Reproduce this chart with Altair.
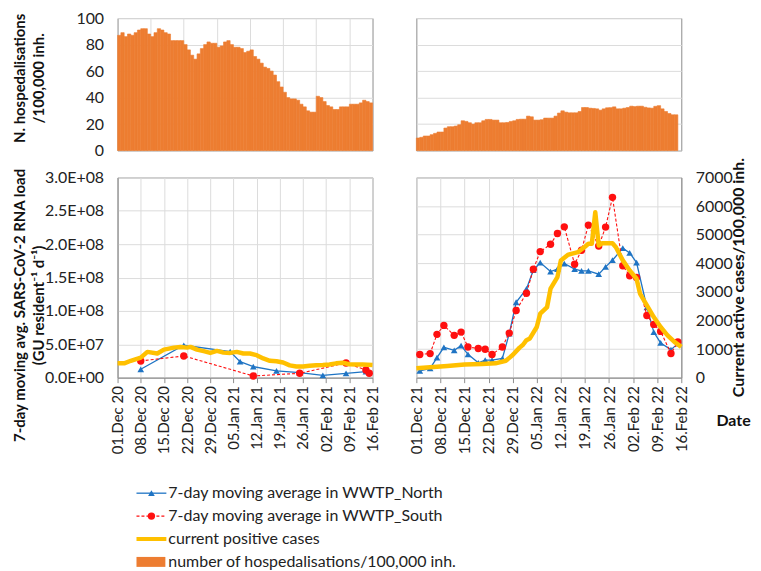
import altair as alt
import pandas as pd

# ---------------- data ----------------
START_2020 = "2020-12-01"
END_2020 = "2021-02-16"
START_2021 = "2021-12-01"
END_2021 = "2022-02-16"

# daily hospitalisations / 100,000 inh. (from 01 Dec)
hosp_2020 = [87, 89, 86, 88, 87, 89, 91, 92, 92, 88,
             86, 89, 92, 91, 89, 88, 83, 83, 83, 83,
             80, 76, 72, 69, 73, 77, 80, 82, 81, 81,
             78, 79, 82, 83, 80, 78, 78, 77, 74, 75,
             76, 71, 69, 66, 63, 62, 60, 57, 52, 48,
             44, 40, 39, 39, 38, 35, 33, 30, 29, 29,
             41, 40, 37, 34, 33, 31, 31, 33, 33, 33,
             35, 35, 35, 36, 38, 37, 36]
hosp_2021 = [9.5, 10, 11, 11, 12, 13, 14, 14, 17, 18,
             18, 18.5, 19.5, 22.5, 22, 21, 20, 21, 21, 22.5,
             23.5, 23.5, 23, 23, 21, 21, 21.2, 22, 22.5, 23.5,
             23.7, 23.7, 26, 25.5, 23, 23, 23.3, 24.5, 24.5, 24.5,
             26, 28.3, 30, 29, 28.5, 28.5, 28.5, 29.5, 32.5, 32.5,
             32, 31.8, 31.5, 30.5, 31.5, 32.3, 32.4, 33, 31.5, 31.5,
             32, 32.5, 33.5, 33.2, 33.5, 33.5, 32.7, 32.2, 32, 33.4,
             33.9, 31.5, 29.5, 28, 27, 27]

# 7-day moving average SARS-CoV-2 RNA load (GU/resident/day), winter 2020/21
north_2020_dates = ["2020-12-08", "2020-12-21", "2021-01-04", "2021-01-07", "2021-01-11",
                    "2021-01-18", "2021-01-25", "2021-02-01", "2021-02-08", "2021-02-14"]
north_2020 = [1.25e7, 4.85e7, 3.9e7, 2.4e7, 1.65e7, 1.0e7, 7.5e6, 3.5e6, 6.5e6, 9.0e6]
south_2020_dates = ["2020-12-08", "2020-12-21", "2021-01-11", "2021-01-25", "2021-02-08",
                    "2021-02-14", "2021-02-15"]
south_2020 = [2.5e7, 3.25e7, 2.5e6, 6.5e6, 2.2e7, 1.15e7, 6.5e6]

# current positive cases / 100,000 inh. (day offset from 01 Dec 2020)
cases_2020_days = [0, 2, 4, 7, 9, 12, 14, 17, 19, 21, 22, 24, 26, 28, 30, 32, 34, 36, 38,
                   40, 42, 44, 46, 48, 50, 52, 54, 56, 58, 60, 62, 64, 66, 68, 70, 72, 74, 77]
cases_2020 = [500, 500, 590, 700, 900, 845, 980, 1050, 1075, 1050, 1075, 980, 925, 865, 935,
              875, 865, 900, 845, 845, 785, 670, 590, 575, 530, 430, 390, 390, 415, 430, 440,
              460, 500, 520, 470, 460, 460, 440]

# winter 2021/22 (day offset from 01 Dec 2021)
wwtp_2021_days = [1, 4, 6, 8, 11, 13, 15, 18, 20, 22, 25, 27, 29, 32, 34, 36, 39, 41, 43,
                  46, 48, 50, 53, 55, 57, 60, 62, 64, 67, 69, 71, 74, 76]
north_2021 = [1.03e7, 1.38e7, 3.0e7, 4.55e7, 4.1e7, 4.8e7, 3.5e7, 2.22e7, 2.62e7, 2.62e7,
              2.87e7, 6.6e7, 1.13e8, 1.33e8, 1.61e8, 1.725e8, 1.59e8, 1.626e8, 1.71e8, 1.626e8,
              1.60e8, 1.60e8, 1.55e8, 1.66e8, 1.76e8, 1.94e8, 1.87e8, 1.725e8, 1.055e8, 6.83e7,
              5.2e7, 4.2e7, 5.1e7]
south_2021 = [3.47e7, 3.6e7, 6.49e7, 7.83e7, 6.34e7, 6.83e7, 4.6e7, 4.36e7, 4.26e7, 3.47e7,
              4.6e7, 6.68e7, 1.006e8, 1.264e8, 1.626e8, 1.889e8, 1.998e8, 2.16e8, 2.26e8, 1.70e8,
              1.91e8, 2.286e8, 1.973e8, 2.256e8, 2.702e8, 1.676e8, 1.527e8, 1.502e8, 9.32e7, 7.98e7,
              6.93e7, 3.62e7, 5.34e7]
cases_2021_days = [0, 4, 9, 14, 19, 23, 26, 28, 30, 31, 32, 33, 35, 36, 38, 39, 41, 42, 44, 45,
                   47, 49, 50, 51, 52, 53, 54, 57, 58, 60, 62, 64, 65, 67, 69, 71, 73, 75, 77]
cases_2021 = [325, 360, 405, 460, 480, 500, 590, 790, 1050, 1150, 1310, 1370, 1770, 2240, 2470,
              3110, 3515, 4100, 4290, 4330, 4390, 4580, 4680, 4680, 5780, 4620, 4700, 4700, 4560,
              4100, 3750, 3460, 2940, 2530, 2120, 1770, 1480, 1250, 1076]

gu_ticks = [0, 5e7, 1e8, 1.5e8, 2e8, 2.5e8, 3e8]
cases_ticks = [0, 1000, 2000, 3000, 4000, 5000, 6000, 7000]
hosp_ticks = [0, 20, 40, 60, 80, 100]

legend_labels = ["7-day moving average in WWTP_North",
                 "7-day moving average in WWTP_South",
                 "current positive cases",
                 "number of hospedalisations/100,000 inh."]

# ---------------- helpers ----------------
DAY = 86400000


def ms(s):
    return int(pd.Timestamp(s).value // 10**6)


def weekly(start, end):
    return list(range(ms(start), ms(end) + 1, 7 * DAY))


def every10(start, end):
    return list(range(ms(start) + 10 * DAY, ms(end), 10 * DAY))


BLUE = "#1F74C4"
RED = "#FF1010"
YEL = "#FFC000"
ORA = "#ED7D31"
FONT = "Lato"
TITLE_X = -90
TOP_H = 133
BOT_H = 201

sci_expr = ("datum.value == 0 ? '0.0E+00' : "
            "format(datum.value / pow(10, floor(log(datum.value)/LN10 + 1e-9)), '.1f') + 'E+' + "
            "(floor(log(datum.value)/LN10 + 1e-9) < 10 ? '0' : '') + "
            "floor(log(datum.value)/LN10 + 1e-9)")


def bars(values, start, end, left):
    s0 = ms(start)
    df = pd.DataFrame({
        "start": [s0 + i * DAY for i in range(len(values))],
        "end": [s0 + (i + 1) * DAY for i in range(len(values))],
        "value": values,
    })
    if left:
        xaxis = alt.Axis(values=every10(start, end), labels=False, ticks=False, domain=False,
                         title=None, grid=True)
        yaxis = alt.Axis(values=hosp_ticks, title=["N. hospedalisations", "/100,000 inh."],
                         titleX=TITLE_X, titleY=60, titleAngle=270, titleAlign="center",
                         titleBaseline="bottom", titleLineHeight=19, titleFontSize=15,
                         ticks=False, domain=False, labelPadding=14, grid=True)
    else:
        xaxis = None
        yaxis = alt.Axis(values=hosp_ticks, labels=False, ticks=False, domain=False, title=None,
                         grid=True)
    return alt.Chart(df).mark_bar(color=ORA, opacity=1, stroke=ORA, strokeWidth=0.6).encode(
        x=alt.X("start:T", scale=alt.Scale(type="utc", domain=[ms(start), ms(end)]), axis=xaxis),
        x2="end:T",
        y=alt.Y("value:Q", scale=alt.Scale(domain=[0, 100]), axis=yaxis),
        y2=alt.datum(0),
    ).properties(width=256 if left else 266, height=TOP_H)


def lines(n_dates, n_vals, s_dates, s_vals, c_days, c_vals, start, end, left):
    s0 = ms(start)
    ndf = pd.DataFrame({"date": n_dates, "gu": n_vals})
    sdf = pd.DataFrame({"date": s_dates, "gu": s_vals})
    cdf = pd.DataFrame({"date": [s0 + d * DAY for d in c_days], "cases": c_vals})
    xaxis = alt.Axis(values=weekly(start, end), format="%d.%b %y", labelAngle=270,
                     labelAlign="right", labelBaseline="middle", labelFlush=False,
                     labelOverlap=False, tickSize=5, grid=True, labelPadding=3,
                     labelFontSize=15,
                     title="Date" if not left else None,
                     titleX=318, titleY=43, titleAngle=0, titleAlign="center",
                     titleBaseline="middle")
    X = alt.X("date:T", scale=alt.Scale(type="utc", domain=[ms(start), ms(end)]), axis=xaxis)
    if left:
        gu_axis = alt.Axis(values=gu_ticks, labelExpr=sci_expr, ticks=False, labelPadding=14,
                           title=["7-day moving avg. SARS-CoV-2 RNA load",
                                  "(GU resident\u207b\u00b9 d\u207b\u00b9)"],
                           titleX=TITLE_X, titleY=128, titleAngle=270, titleAlign="center",
                           titleBaseline="bottom", titleLineHeight=19, titleFontSize=15,
                           grid=True)
        c_axis = None
    else:
        gu_axis = None
        c_axis = alt.Axis(values=cases_ticks, orient="right", format="d", ticks=False,
                          labelPadding=14, grid=True,
                          title="Current active cases/100,000 inh.", titleX=57, titleY=100,
                          titleAngle=270, titleAlign="center", titleBaseline="middle")
    gu_scale = alt.Scale(domain=[0, 3e8])
    north = alt.Chart(ndf).mark_line(
        color=BLUE, strokeWidth=1.3,
        point=alt.OverlayMarkDef(shape="triangle-up", filled=True, size=45, color=BLUE, opacity=1),
    ).encode(x=X, y=alt.Y("gu:Q", scale=gu_scale, axis=gu_axis))
    south = alt.Chart(sdf).mark_line(
        color=RED, strokeWidth=1.1, strokeDash=[3, 2],
        point=alt.OverlayMarkDef(shape="circle", filled=True, size=55, color=RED, opacity=1),
    ).encode(x=X, y=alt.Y("gu:Q", scale=gu_scale, axis=None))
    cases = alt.Chart(cdf).mark_line(color=YEL, strokeWidth=4.5, strokeJoin="round").encode(
        x=X, y=alt.Y("cases:Q", scale=alt.Scale(domain=[0, 7000]), axis=c_axis))
    return alt.layer(north, south, cases).resolve_scale(y="independent").properties(
        width=256 if left else 266, height=BOT_H)


tl = bars(hosp_2020, START_2020, END_2020, True)
tr = bars(hosp_2021, START_2021, END_2021, False)

s21 = ms(START_2021)
bl = lines([ms(d) for d in north_2020_dates], north_2020,
           [ms(d) for d in south_2020_dates], south_2020,
           cases_2020_days, cases_2020, START_2020, END_2020, True)
br = lines([s21 + d * DAY for d in wwtp_2021_days], north_2021,
           [s21 + d * DAY for d in wwtp_2021_days], south_2021,
           cases_2021_days, cases_2021, START_2021, END_2021, False)

# ---------------- legend (placed below the date labels) ----------------
leg_df = pd.DataFrame({"label": legend_labels, "row": list(range(len(legend_labels)))})
LY = alt.Y("row:Q", scale=alt.Scale(domain=[0, 3], range=[89, 158]), axis=None)
base = alt.Chart(leg_df)
leg_text = base.mark_text(align="left", baseline="middle", fontSize=16, font=FONT,
                          color="#222222").encode(y=LY, x=alt.value(51), text="label:N")
l_n = base.transform_filter(alt.datum.row == 0).mark_rule(
    color=BLUE, strokeWidth=1.3).encode(y=LY, x=alt.value(19), x2=alt.value(49))
p_n = base.transform_filter(alt.datum.row == 0).mark_point(
    shape="triangle-up", filled=True, size=45, color=BLUE, opacity=1).encode(y=LY, x=alt.value(34))
l_s = base.transform_filter(alt.datum.row == 1).mark_rule(
    color=RED, strokeWidth=1.1, strokeDash=[3, 2]).encode(y=LY, x=alt.value(19), x2=alt.value(49))
p_s = base.transform_filter(alt.datum.row == 1).mark_point(
    shape="circle", filled=True, size=55, color=RED, opacity=1).encode(y=LY, x=alt.value(34))
l_c = base.transform_filter(alt.datum.row == 2).mark_rule(
    color=YEL, strokeWidth=4).encode(y=LY, x=alt.value(19), x2=alt.value(49))
l_h = base.transform_filter(alt.datum.row == 3).mark_rule(
    color=ORA, strokeWidth=10).encode(y=LY, x=alt.value(19), x2=alt.value(48))
legend = alt.layer(l_n, p_n, l_s, p_s, l_c, l_h, leg_text).properties(
    width=256, height=166, view=alt.ViewBackground(stroke="transparent"))

chart = alt.concat(
    tl, tr, bl, br, legend, columns=2,
    spacing={"row": 27, "column": 44}, bounds="flush", align="each",
).properties(
    padding={"left": 4, "top": 0, "right": 2, "bottom": 0}
).configure(font=FONT).configure_view(
    stroke="#8c8c8c", strokeWidth=1
).configure_axis(
    labelFont=FONT, labelFontSize=16, labelColor="#222222",
    titleFont=FONT, titleFontSize=16, titleFontWeight="bold", titleColor="#111111",
    gridColor="#dcdcdc", gridWidth=1, domainColor="#8c8c8c", tickColor="#8c8c8c",
)

chart.save("out.html", embed_options={"renderer": "svg", "actions": False})
